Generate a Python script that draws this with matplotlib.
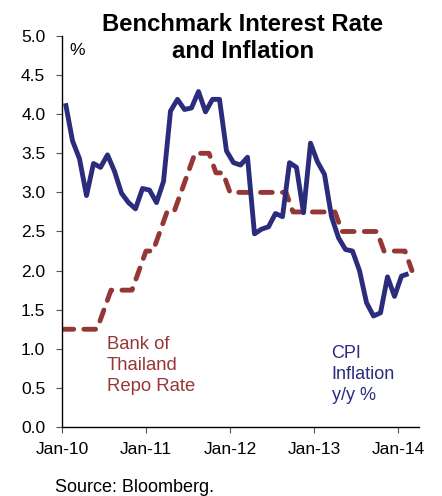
import matplotlib
matplotlib.use("Agg")
import matplotlib.pyplot as plt
import numpy as np

plt.rcParams['font.family'] = ['Liberation Sans', 'DejaVu Sans']

# monthly series, Jan-10 onwards
cpi = [4.14, 3.66, 3.43, 2.96, 3.37, 3.32, 3.48, 3.27, 2.99, 2.87, 2.79, 3.05,
       3.03, 2.87, 3.14, 4.04, 4.19, 4.06, 4.08, 4.29, 4.03, 4.19, 4.19, 3.53,
       3.38, 3.35, 3.45, 2.47, 2.53, 2.56, 2.73, 2.69, 3.38, 3.32, 2.74, 3.63,
       3.39, 3.23, 2.69, 2.42, 2.27, 2.25, 2.00, 1.59, 1.42, 1.46, 1.92, 1.67,
       1.93, 1.96]
repo = [1.25, 1.25, 1.25, 1.25, 1.25, 1.25, 1.50, 1.75, 1.75, 1.75, 1.75, 2.00,
        2.25, 2.25, 2.50, 2.75, 2.75, 3.00, 3.25, 3.50, 3.50, 3.50, 3.25, 3.25,
        3.00, 3.00, 3.00, 3.00, 3.00, 3.00, 3.00, 3.00, 3.00, 2.75, 2.75, 2.75,
        2.75, 2.75, 2.75, 2.75, 2.50, 2.50, 2.50, 2.50, 2.50, 2.50, 2.25, 2.25,
        2.25, 2.25, 2.00]
xtick_labels = ['Jan-10', 'Jan-11', 'Jan-12', 'Jan-13', 'Jan-14']
yticks = [0.0, 0.5, 1.0, 1.5, 2.0, 2.5, 3.0, 3.5, 4.0, 4.5, 5.0]

navy = '#2B2C7C'
brick = '#953735'

fig = plt.figure(figsize=(4.42, 4.96), dpi=100)
ax = fig.add_axes([62 / 442, 69 / 496, 357 / 442, 391 / 496])

# CPI is a mid-month reading, the repo rate is month start
x_cpi = np.arange(len(cpi)) + 0.5
x_repo = np.arange(len(repo))

ax.plot(x_repo, repo, color=brick, lw=3.5, linestyle=(0, (2.4, 2.1)),
        dash_capstyle='round', solid_joinstyle='round')
ax.plot(x_cpi, cpi, color=navy, lw=3.5, solid_joinstyle='round',
        solid_capstyle='butt')

ax.set_xlim(0, 51)
ax.set_ylim(0, 5)
ax.set_xticks(np.arange(0, 60, 12))
ax.set_xticklabels(xtick_labels)
ax.set_yticks(yticks)
ax.set_yticklabels([f'{v:.1f}' for v in yticks])

for s in ['top', 'right']:
    ax.spines[s].set_visible(False)
for s in ['left', 'bottom']:
    ax.spines[s].set_linewidth(1.0)
    ax.spines[s].set_color('black')
ax.tick_params(axis='both', length=4, width=0.8, color='#555555',
               labelsize=12.5, labelcolor='black')
ax.tick_params(axis='y', pad=8)
ax.tick_params(axis='x', pad=7)

ax.text(1.1, 4.82, '%', fontsize=12.5, va='center', ha='left')
ax.text(6.4, 1.17, 'Bank of\nThailand\nRepo Rate', color=brick, fontsize=13.3,
        va='top', ha='left', linespacing=1.32)
ax.text(38.5, 1.05, 'CPI\nInflation\ny/y %', color=navy, fontsize=13,
        va='top', ha='left', linespacing=1.32)

fig.text(243 / 442, 1 - 13 / 496, 'Benchmark Interest Rate\nand Inflation',
         ha='center', va='top', fontsize=17.2, fontweight='bold', linespacing=1.2)
fig.text(55 / 442, 8 / 496, 'Source: Bloomberg.', fontsize=13, va='center',
         ha='left')

fig.savefig('out.png', dpi=100)
